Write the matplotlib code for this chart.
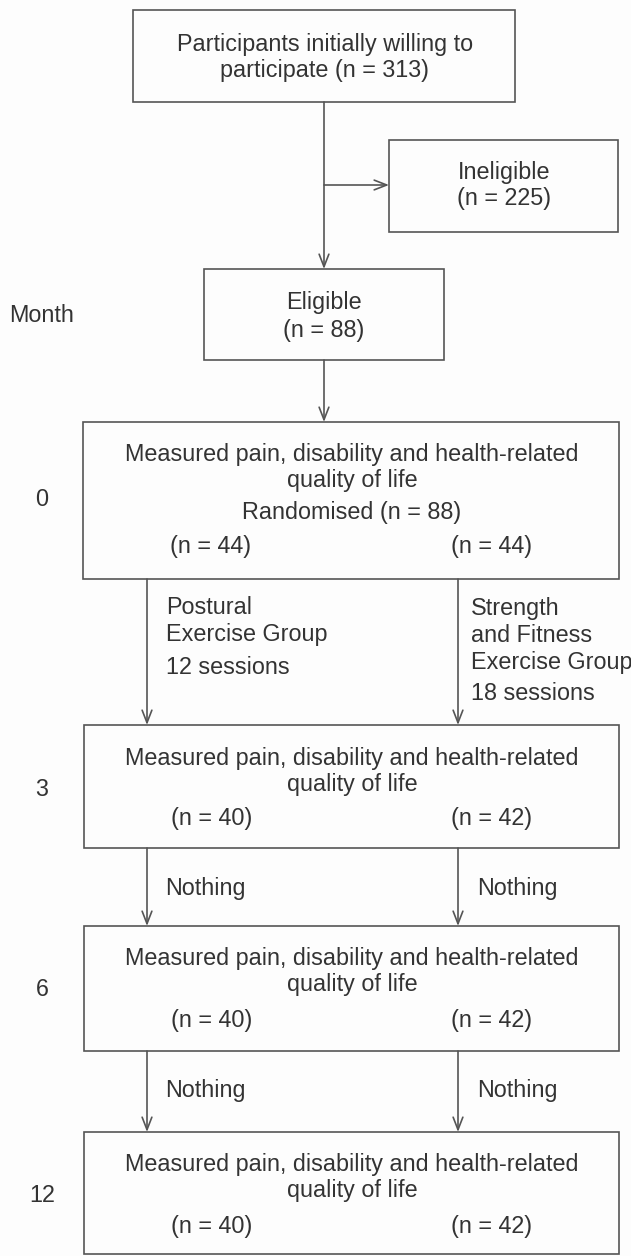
import matplotlib
matplotlib.use("Agg")
import matplotlib.pyplot as plt
from matplotlib.patches import Rectangle

plt.rcParams['font.family'] = ['Liberation Sans', 'DejaVu Sans']

# ---- data ----
n_initial = 313
n_ineligible = 225
n_eligible = 88
n_randomised = 88
months = ["0", "3", "6", "12"]
group_n_left = [44, 40, 40, 40]
group_n_right = [44, 42, 42, 42]
left_group_label = ["Postural", "Exercise Group", "12 sessions"]
right_group_label = ["Strength", "and Fitness", "Exercise Group", "18 sessions"]
between_label = "Nothing"
measure_lines = ["Measured pain, disability and health-related", "quality of life"]

W, H = 631, 1256
fig = plt.figure(figsize=(W / 100, H / 100), dpi=100)
fig.patch.set_facecolor('#fdfdfd')
ax = fig.add_axes([0, 0, 1, 1])
ax.set_xlim(0, W)
ax.set_ylim(H, 0)
ax.axis('off')

LC = '#555555'
TC = '#333333'
LW = 1.2
FS = 16.8


def box(x0, y0, x1, y1):
    ax.add_patch(Rectangle((x0, y0), x1 - x0, y1 - y0, fill=False,
                           edgecolor=LC, linewidth=LW))


def txt(x, y, s, ha='center', fs=FS):
    ax.text(x, y, s, ha=ha, va='center', fontsize=fs, color=TC)


def arrow(x0, y0, x1, y1):
    ax.annotate('', xy=(x1, y1), xytext=(x0, y0),
                arrowprops=dict(arrowstyle='->,head_length=0.9,head_width=0.35',
                                color=LC, lw=LW, shrinkA=0, shrinkB=0))


# box 1
box(133, 10, 515, 102)
txt(325, 44, "Participants initially willing to")
txt(325, 71, f"participate (n = {n_initial})")

# ineligible
box(389, 140, 618, 232)
txt(504, 173, "Ineligible")
txt(504, 199, f"(n = {n_ineligible})")
arrow(324, 185, 389, 185)

# eligible
arrow(324, 102, 324, 269)
box(204, 269, 444, 360)
txt(324, 302, "Eligible")
txt(324, 330, f"(n = {n_eligible})")
txt(9, 315, "Month", ha='left')

# randomised box
arrow(324, 360, 324, 422)
box(83, 422, 619, 579)
txt(352, 455, measure_lines[0])
txt(352, 481, measure_lines[1])
txt(352, 513, f"Randomised (n = {n_randomised})")
txt(211, 546, f"(n = {group_n_left[0]})")
txt(492, 546, f"(n = {group_n_right[0]})")
txt(42, 500, months[0])

XL, XR = 147, 458

# arrows to month-3 box with group labels
arrow(XL, 579, XL, 725)
arrow(XR, 579, XR, 725)
for i, s in enumerate(left_group_label):
    txt(166, [608, 635, 667][i], s, ha='left')
for i, s in enumerate(right_group_label):
    txt(471, [608, 635, 662, 693][i], s, ha='left')

# follow-up boxes
tops = [725, 926, 1132]
bots = [848, 1051, 1254]
for k in range(3):
    t, b = tops[k], bots[k]
    box(84, t, 619, b)
    txt(352, t + 33, measure_lines[0])
    txt(352, t + 59, measure_lines[1])
    txt(212, t + 94, f"(n = {group_n_left[k + 1]})")
    txt(492, t + 94, f"(n = {group_n_right[k + 1]})")
    txt(42, t + 64, months[k + 1])
    if k < 2:
        nt = tops[k + 1]
        arrow(XL, b, XL, nt)
        arrow(XR, b, XR, nt)
        ym = b + 40
        txt(165, ym, between_label, ha='left')
        txt(477, ym, between_label, ha='left')

fig.savefig('out.png', dpi=100, facecolor=fig.get_facecolor())
